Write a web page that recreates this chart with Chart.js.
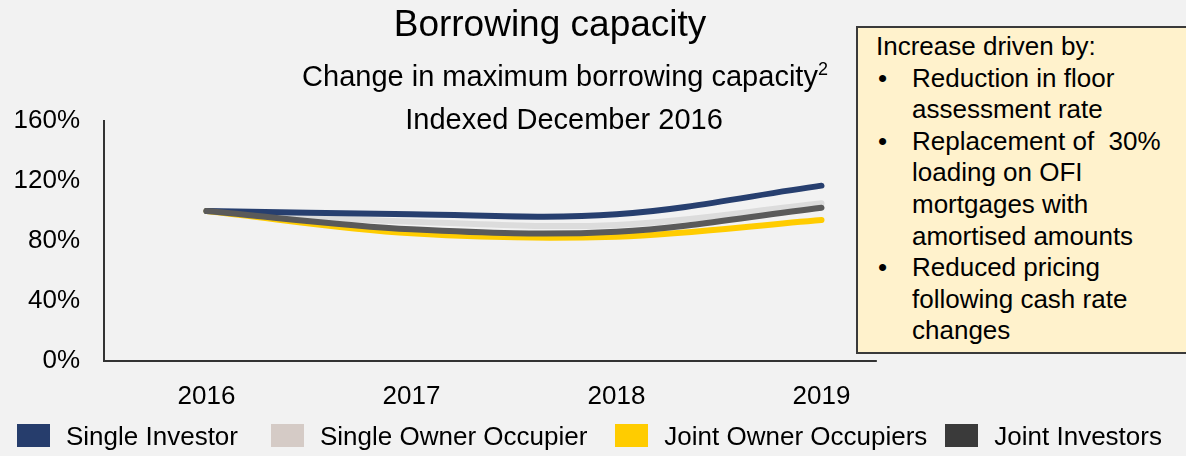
<!DOCTYPE html>
<html>
<head>
<meta charset="utf-8">
<title>Borrowing capacity</title>
<script src="https://cdn.jsdelivr.net/npm/chart.js@4.4.0/dist/chart.umd.min.js"></script>
<style>
  html, body { margin: 0; padding: 0; background: #f2f2f2; }
  body { width: 1186px; height: 456px; position: relative; overflow: hidden;
         font-family: "Liberation Sans", Arial, sans-serif; color: #000; }
  canvas { position: absolute; left: 0; top: 0; }
  .t { position: absolute; white-space: nowrap; line-height: 1; transform: translateX(-50%); }
  #title { left: 550px; top: 5px; font-size: 37px; }
  #sub1 { left: 565px; top: 62px; font-size: 29px; }
  #sub1 sup { font-size: 18px; vertical-align: 11px; line-height: 0; }
  #sub2 { left: 564px; top: 105px; font-size: 29px; }
  #note { position: absolute; left: 856px; top: 26px; width: 318px; height: 321px;
          background: #fff2cc; border: 2px solid #3a3a3a; font-size: 26px; line-height: 31.6px;
          padding: 3px 0 0 18px; box-sizing: content-box; }
  #note .b { position: relative; padding-left: 36px; }
  #note .b span { position: absolute; left: 2px; }
  #legend { position: absolute; left: 17px; top: 424px; display: flex; font-size: 26px; }
  #legend .item { display: flex; align-items: center; }
  #legend .box { width: 33px; height: 23px; margin-right: 16px; }
  #legend .lab { line-height: 23px; position: relative; top: 1px; }
</style>
</head>
<body>
<canvas id="chart" width="1186" height="456"></canvas>
<div class="t" id="title">Borrowing capacity</div>
<div class="t" id="sub1">Change in maximum borrowing capacity<sup>2</sup></div>
<div class="t" id="sub2">Indexed December 2016</div>
<div id="note">
  <div>Increase driven by:</div>
  <div class="b"><span>•</span>Reduction in floor<br>assessment rate</div>
  <div class="b"><span>•</span>Replacement of&nbsp; 30%<br>loading on OFI<br>mortgages with<br>amortised amounts</div>
  <div class="b"><span>•</span>Reduced pricing<br>following cash rate<br>changes</div>
</div>
<div id="legend"></div>
<script>
// data (index, Dec 2016 = 100%)
const years = ["2016", "2017", "2018", "2019"];
const singleInvestor = [100, 97.8, 97.8, 116.9];
const singleOwnerOccupier = [100, 92.9, 90.7, 105.1];
const jointOwnerOccupiers = [100, 85.1, 82.9, 94.0];
const jointInvestors = [100, 87.8, 86.2, 102.2];
const yTicks = [0, 40, 80, 120, 160];

const seriesNames = ["Single Investor", "Single Owner Occupier", "Joint Owner Occupiers", "Joint Investors"];
const seriesData = [singleInvestor, singleOwnerOccupier, jointOwnerOccupiers, jointInvestors];
const lineColors = ["#273f6f", "#dcdcdc", "#ffcc00", "#5a5a5a"];
const legendColors = ["#263d6c", "#d5cbc6", "#ffcc00", "#3a3a3a"];
const legendGaps = [33, 28, 18, 0]; // uneven spacing as in the slide
const drawOrder = [1, 3, 2, 0]; // joint investors on top

// legend (html, built from the series arrays)
const legend = document.getElementById("legend");
seriesNames.forEach(function (name, i) {
  const item = document.createElement("div");
  item.className = "item";
  item.style.marginRight = legendGaps[i] + "px";
  item.innerHTML = '<div class="box" style="background:' + legendColors[i] + '"></div><div class="lab">' + name + '</div>';
  legend.appendChild(item);
});

// bottom axis line stops short of the note box, like the original
const axisLine = {
  id: "axisLine",
  afterDraw(chart) {
    const ctx = chart.ctx, a = chart.chartArea, x = chart.scales.x;
    const step = x.getPixelForTick(1) - x.getPixelForTick(0);
    ctx.save();
    ctx.strokeStyle = "#333";
    ctx.lineWidth = 2;
    ctx.beginPath();
    ctx.moveTo(a.left - 1, a.bottom);
    ctx.lineTo(x.getPixelForTick(years.length - 1) + step * 0.27, a.bottom);
    ctx.stroke();
    ctx.restore();
  }
};

const datasets = seriesNames.map(function (name, i) {
  return {
    label: name,
    data: seriesData[i],
    borderColor: lineColors[i],
    backgroundColor: legendColors[i],
    borderWidth: 6,
    borderCapStyle: "round",
    tension: 0.35,
    pointRadius: 0,
    fill: false,
    order: drawOrder[i]
  };
});

new Chart(document.getElementById("chart"), {
  type: "line",
  data: { labels: years, datasets: datasets },
  plugins: [axisLine],
  options: {
    responsive: false,
    animation: false,
    layout: { padding: { top: 121, right: 262, bottom: 0, left: 0 } },
    plugins: { legend: { display: false }, tooltip: { enabled: false } },
    scales: {
      x: {
        offset: true,
        grid: { display: false, drawTicks: false },
        border: { display: false },
        ticks: { color: "#000", padding: 20, font: { family: "Liberation Sans", size: 26 } },
        afterFit(s) { s.height = 95; }
      },
      y: {
        min: 0,
        max: 160,
        afterBuildTicks(s) { s.ticks = yTicks.map(function (v) { return { value: v }; }); },
        grid: { display: false, drawTicks: false },
        border: { display: true, color: "#333", width: 2 },
        ticks: {
          color: "#000", padding: 24,
          font: { family: "Liberation Sans", size: 26 },
          callback: function (v) { return v + "%"; }
        },
        afterFit(s) { s.width = 104; }
      }
    }
  }
});
</script>
</body>
</html>
